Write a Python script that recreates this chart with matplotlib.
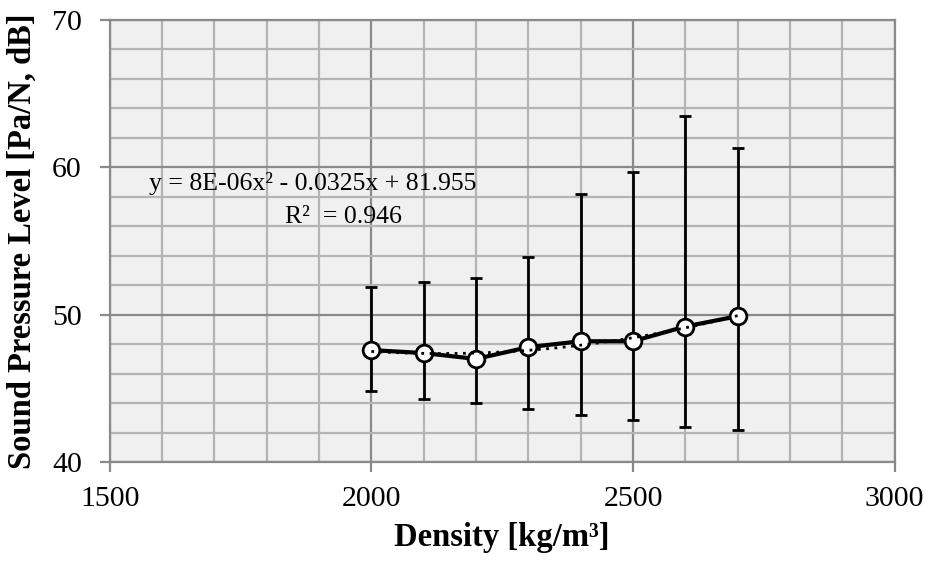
import numpy as np
import matplotlib.pyplot as plt
from matplotlib.ticker import MultipleLocator

# Datos
densidad = [2000, 2100, 2200, 2300, 2400, 2500, 2600, 2700]
spl = [47.6, 47.4, 47.0, 47.8, 48.2, 48.2, 49.2, 49.9]
err_sup = [51.9, 52.25, 52.5, 53.9, 58.2, 59.7, 63.5, 61.3]
err_inf = [44.8, 44.3, 44.0, 43.6, 43.2, 42.85, 42.4, 42.2]

ecuacion = "y = 8E-06x² - 0.0325x + 81.955"
r2 = "R²  = 0.946"

plt.rcParams['font.family'] = ['Liberation Serif', 'DejaVu Serif']

fig = plt.figure(figsize=(9.3, 5.65), dpi=100)
ax = fig.add_axes([0.118, 0.182, 0.844, 0.783])
ax.set_facecolor('#f0f0f0')

y = np.array(spl)
yerr = [y - np.array(err_inf), np.array(err_sup) - y]

# Barras de error y serie
ax.errorbar(densidad, spl, yerr=yerr, fmt='none', ecolor='black',
            elinewidth=2, capsize=4.5, capthick=2, zorder=3)
ax.plot(densidad, spl, color='black', lw=3, marker='o', ms=12,
        mfc='white', mec='black', mew=2, zorder=4)

# Linea de tendencia polinomica (grado 2)
coef = np.polyfit(densidad, spl, 2)
xt = np.linspace(densidad[0], densidad[-1], 100)
ax.plot(xt, np.polyval(coef, xt), color='black', lw=2, ls=(0, (1, 2)), zorder=5)

ax.set_xlim(1500, 3000)
ax.set_ylim(40, 70)
ax.xaxis.set_major_locator(MultipleLocator(500))
ax.xaxis.set_minor_locator(MultipleLocator(100))
ax.yaxis.set_major_locator(MultipleLocator(10))
ax.yaxis.set_minor_locator(MultipleLocator(2))
ax.grid(which='major', color='#8a8a8a', lw=1.6)
ax.grid(which='minor', color='#b4b4b4', lw=1.6)
ax.set_axisbelow(True)
ax.tick_params(which='major', length=7, width=1.6, color='#8a8a8a',
               labelsize=21.5)
ax.tick_params(axis='x', pad=10)
ax.tick_params(axis='y', pad=13)
ax.tick_params(which='minor', length=0)
for s in ax.spines.values():
    s.set_color('#8a8a8a')
    s.set_linewidth(1.6)

ax.set_xlabel('Density [kg/m³]', fontsize=23.5, fontweight='bold', labelpad=7)
ax.set_ylabel('Sound Pressure Level [Pa/N, dB]', fontsize=23.5, fontweight='bold', labelpad=10)

ax.text(1575, 58.9, ecuacion, fontsize=18.5, va='center', ha='left')
ax.text(1834, 56.6, r2, fontsize=18.5, va='center', ha='left')

fig.savefig('out.png', dpi=100)
